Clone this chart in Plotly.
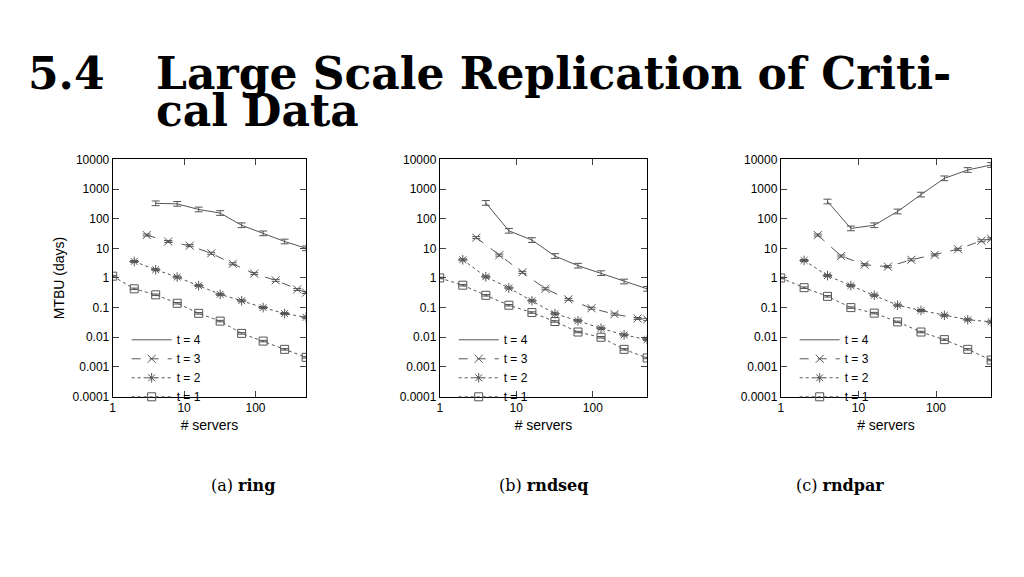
import plotly.graph_objects as go

# servers (x values)
x_t4 = [4, 8, 16, 32, 64, 128, 256, 512]
x_t3 = [3, 6, 12, 24, 48, 96, 192, 384, 512]
x_t2 = [2, 4, 8, 16, 32, 64, 128, 256, 512]
x_t1 = [1, 2, 4, 8, 16, 32, 64, 128, 256, 512]

# MTBU (days)
ring_t4 = [330, 316, 205, 155, 60, 32, 17, 10]
ring_t3 = [28, 17, 12.3, 6.8, 3, 1.4, 0.83, 0.41, 0.32]
ring_t2 = [3.6, 1.9, 1.07, 0.55, 0.28, 0.17, 0.1, 0.063, 0.047]
ring_t1 = [1.15, 0.43, 0.27, 0.14, 0.064, 0.035, 0.0135, 0.0074, 0.0039, 0.0021]

rndseq_t4 = [340, 39, 19, 5.5, 2.6, 1.45, 0.76, 0.43]
rndseq_t3 = [23, 5.9, 1.55, 0.43, 0.19, 0.095, 0.06, 0.043, 0.04]
rndseq_t2 = [4.1, 1.1, 0.46, 0.17, 0.062, 0.036, 0.02, 0.012, 0.0083]
rndseq_t1 = [1, 0.57, 0.26, 0.12, 0.068, 0.034, 0.015, 0.01, 0.0039, 0.002]

rndpar_t4 = [380, 47, 60, 175, 650, 2300, 4400, 6500]
rndpar_t3 = [28, 5.5, 2.8, 2.4, 4.1, 6, 9.3, 18, 21]
rndpar_t2 = [3.9, 1.2, 0.55, 0.26, 0.12, 0.08, 0.055, 0.039, 0.033]
rndpar_t1 = [1, 0.47, 0.24, 0.1, 0.065, 0.033, 0.015, 0.0083, 0.0039, 0.0017]

panels = [
    ("ring", ring_t4, ring_t3, ring_t2, ring_t1),
    ("rndseq", rndseq_t4, rndseq_t3, rndseq_t2, rndseq_t1),
    ("rndpar", rndpar_t4, rndpar_t3, rndpar_t2, rndpar_t1),
]
captions = ["(a) <b>ring</b>", "(b) <b>rndseq</b>", "(c) <b>rndpar</b>"]

ytick_vals = [0.0001, 0.001, 0.01, 0.1, 1, 10, 100, 1000, 10000]
ytick_text = ["0.0001", "0.001", "0.01", "0.1", "1", "10", "100", "1000", "10000"]

W, H = 1024, 577
off = 10  # page offset seen in the render
x_dom = [(102, 296), (430, 638), (772, 983)]
y_dom = (1 - 391 / H, 1 - 148 / H)
col = "#555555"

fig = go.Figure()
for i, (name, t4, t3, t2, t1) in enumerate(panels):
    n = "" if i == 0 else str(i + 1)
    xa, ya, lg = "x" + n, "y" + n, "legend" + n
    series = [
        ("t = 4", x_t4, t4, "solid", None, 0.2),
        ("t = 3", x_t3, t3, "dash", "x-thin-open", 0.08),
        ("t = 2", x_t2, t2, "3px,3px", "asterisk-open", 0.08),
        ("t = 1", x_t1, t1, "dot", "square-open", 0.06),
    ]
    for label, xs, ys, dash, sym, err in series:
        fig.add_trace(go.Scatter(
            x=xs, y=ys, name=label, xaxis=xa, yaxis=ya, legend=lg,
            mode="lines" if sym is None else "lines+markers",
            line=dict(color=col, width=1, dash=dash),
            marker=dict(symbol=sym or "circle", size=8, color=col,
                        line=dict(color=col, width=1)),
            error_y=dict(type="data", array=[v * err for v in ys],
                         arrayminus=[v * err / (1 + err) for v in ys],
                         color=col, thickness=1, width=4),
        ))
    fig.layout["xaxis" + n] = dict(
        domain=[x_dom[i][0] / W, x_dom[i][1] / W], type="log",
        range=[0, 2.7093], tickvals=[1, 10, 100], ticktext=["1", "10", "100"],
        ticks="inside", ticklen=6, mirror="ticks", showline=True,
        linecolor="black", linewidth=1, showgrid=False, zeroline=False,
        title=dict(text="# servers", standoff=6), anchor=ya)
    fig.layout["yaxis" + n] = dict(
        domain=list(y_dom), type="log", range=[-4, 4],
        tickvals=ytick_vals, ticktext=ytick_text, ticks="inside", ticklen=6,
        mirror="ticks", showline=True, linecolor="black", linewidth=1,
        showgrid=False, zeroline=False,
        title=dict(text="MTBU (days)" if i == 0 else "", standoff=4), anchor=xa)
    fig.layout[lg] = dict(x=(x_dom[i][0] + 14) / W, y=1 - 318 / H,
                          xanchor="left", yanchor="top", bgcolor="rgba(0,0,0,0)",
                          font=dict(size=12), tracegroupgap=0, itemwidth=40,
                          traceorder="normal")
    fig.add_annotation(text=captions[i], xref="paper", yref="paper",
                       x=(x_dom[i][0] + x_dom[i][1]) / 2 / W, y=1 - 482 / H,
                       yanchor="middle", showarrow=False,
                       font=dict(family="DejaVu Serif", size=16, color="black"))

tfont = dict(family="DejaVu Serif", size=44, color="black")
fig.add_annotation(text="<b>5.4</b>", xref="paper", yref="paper", x=15 / W,
                   y=1 - 60 / H, xanchor="left", yanchor="middle",
                   showarrow=False, font=tfont)
fig.add_annotation(text="<b>Large Scale Replication of Criti-</b>", xref="paper",
                   yref="paper", x=143 / W, y=1 - 60 / H, xanchor="left",
                   yanchor="middle", showarrow=False, font=tfont)
fig.add_annotation(text="<b>cal Data</b>", xref="paper", yref="paper", x=143 / W,
                   y=1 - 98 / H, xanchor="left", yanchor="middle",
                   showarrow=False, font=tfont)

fig.update_layout(width=W, height=H, margin=dict(l=0, r=0, t=0, b=0),
                  plot_bgcolor="white", paper_bgcolor="white",
                  font=dict(family="Liberation Sans", size=12, color="black"))
fig.write_html("out.html")
